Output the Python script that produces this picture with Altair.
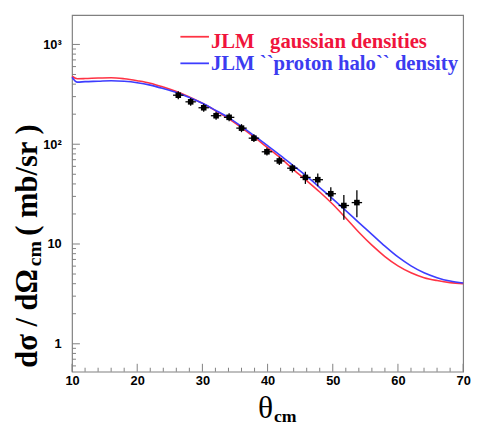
import altair as alt
import pandas as pd

# ---- curves (theta_cm in deg, dsigma/dOmega in mb/sr) ----
theta_curve = [10, 10.8, 12, 14, 16, 18, 20, 22, 24, 26, 28, 30, 32, 34, 36, 38, 40,
               42, 44, 46, 48, 50, 52, 54, 56, 58, 60, 62, 64, 66, 68, 70]
jlm_gauss = [480, 453, 455, 461, 464, 453, 433, 409, 374, 337, 298, 257, 217, 181, 147, 117,
             92.3, 72.8, 55.4, 43.1, 33.2, 25.0, 18.2, 13.1, 9.73, 7.49, 6.04, 5.15, 4.60,
             4.30, 4.10, 4.01]
jlm_halo = [469, 419, 424, 428, 433, 428, 414, 391, 361, 330, 294, 257, 219, 185, 151, 121,
            96.6, 76.9, 60.7, 47.8, 36.8, 28.3, 21.6, 16.4, 12.5, 9.51, 7.41, 6.04, 5.15,
            4.60, 4.25, 4.06]

# ---- data points ----
theta_data = [26.3, 28.2, 30.2, 32.1, 34.1, 36.0, 37.9, 39.9, 41.8, 43.8, 45.8, 47.7,
              49.7, 51.7, 53.7]
xs_data = [310, 266, 232, 193, 186, 145, 115, 84, 68, 57.5, 46.5, 44.1, 31.9, 24.3, 26.0]
xs_lo = [283, 243, 212, 176, 170, 132, 105, 77, 62, 52, 40, 38, 27, 17.5, 18.5]
xs_hi = [340, 291, 254, 211, 204, 159, 126, 92, 75, 63, 53, 51, 37, 31, 34.5]
theta_err = [0.8, 0.8, 0.8, 0.8, 0.8, 0.8, 0.8, 0.8, 0.8, 0.8, 0.8, 0.8, 0.8, 0.8, 0.8]

# ---- ticks ----
x_major = [10, 20, 30, 40, 50, 60, 70]
x_minor = [12, 14, 16, 18, 22, 24, 26, 28, 32, 34, 36, 38, 42, 44, 46, 48,
           52, 54, 56, 58, 62, 64, 66, 68]
y_major = [1, 10, 100, 1000]
y_minor = [0.6, 0.7, 0.8, 0.9, 2, 3, 4, 5, 6, 7, 8, 9, 20, 30, 40, 50, 60, 70, 80, 90,
           200, 300, 400, 500, 600, 700, 800, 900]

legend_labels = ["JLM\u00a0\u00a0\u00a0gaussian densities", "JLM ``proton halo`` density"]

RED = "#ff3344"
BLUE = "#3d3dff"
GRAY = "#808080"
W, H = 397, 362

gauss_df = pd.DataFrame({"theta": theta_curve, "xs": jlm_gauss})
halo_df = pd.DataFrame({"theta": theta_curve, "xs": jlm_halo})
pts_df = pd.DataFrame({
    "theta": theta_data, "xs": xs_data, "lo": xs_lo, "hi": xs_hi,
    "tlo": [t - e for t, e in zip(theta_data, theta_err)],
    "thi": [t + e for t, e in zip(theta_data, theta_err)],
})

xs = alt.Scale(domain=[10, 70], nice=False)
ys = alt.Scale(type="log", domain=[0.525, 1970], nice=False)

red_line = alt.Chart(gauss_df).mark_line(color=RED, strokeWidth=1.6, interpolate="monotone").encode(
    x=alt.X("theta:Q", scale=xs, axis=None),
    y=alt.Y("xs:Q", scale=ys, axis=None),
)
blue_line = alt.Chart(halo_df).mark_line(color=BLUE, strokeWidth=1.6, interpolate="monotone").encode(
    x=alt.X("theta:Q", scale=xs, axis=None),
    y=alt.Y("xs:Q", scale=ys, axis=None),
)

# inward ticks (ROOT style)
def xticks(vals, length):
    return alt.Chart(pd.DataFrame({"v": vals})).mark_rule(color=GRAY, strokeWidth=1).encode(
        x=alt.X("v:Q", scale=xs, axis=None), y=alt.value(H - length), y2=alt.value(H))

def yticks(vals, length):
    return alt.Chart(pd.DataFrame({"v": vals})).mark_rule(color=GRAY, strokeWidth=1).encode(
        y=alt.Y("v:Q", scale=ys, axis=None), x=alt.value(0), x2=alt.value(length))

ticks = [xticks(x_major, 8), xticks(x_minor, 4), yticks(y_major, 8), yticks(y_minor, 4)]

ebar_v = alt.Chart(pts_df).mark_rule(color="black", strokeWidth=1.3).encode(
    x=alt.X("theta:Q", scale=xs, axis=None),
    y=alt.Y("lo:Q", scale=ys, axis=None),
    y2="hi:Q",
)
ebar_h = alt.Chart(pts_df).mark_rule(color="black", strokeWidth=1.3).encode(
    x=alt.X("tlo:Q", scale=xs, axis=None),
    x2="thi:Q",
    y=alt.Y("xs:Q", scale=ys, axis=None),
)
points = alt.Chart(pts_df).mark_square(size=32, color="black", opacity=1).encode(
    x=alt.X("theta:Q", scale=xs, axis=alt.Axis(
        orient="bottom", values=x_major, ticks=False, tickSize=0, domain=False, grid=False,
        title=None, labelFont="Liberation Sans", labelFontWeight="bold", labelFontSize=13,
        labelColor="black", labelPadding=3, labelFlush=False, format="d")),
    y=alt.Y("xs:Q", scale=ys, axis=alt.Axis(
        orient="left", values=y_major, ticks=False, tickSize=0, domain=False, grid=False,
        title=None, labelFont="Liberation Sans", labelFontWeight="bold", labelFontSize=13,
        labelColor="black", labelPadding=11,
        labelExpr="datum.value == 1000 ? '10\u00b3' : datum.value == 100 ? '10\u00b2' : datum.value == 10 ? '10' : '1'")),
)

one = pd.DataFrame({"a": [0]})

def txt(s, x, y, **kw):
    return alt.Chart(one).mark_text(text=s, **kw).encode(x=alt.value(x), y=alt.value(y))

# legend
leg_red_line = alt.Chart(one).mark_rule(color=RED, strokeWidth=1.8).encode(
    x=alt.value(110), x2=alt.value(139), y=alt.value(22))
leg_blue_line = alt.Chart(one).mark_rule(color=BLUE, strokeWidth=1.8).encode(
    x=alt.value(110), x2=alt.value(139), y=alt.value(49))
leg_red_txt = txt(legend_labels[0], 141, 33, font="Liberation Serif", fontWeight="bold",
                  fontSize=21, color="#f0143c", align="left", baseline="alphabetic")
leg_blue_txt = txt(legend_labels[1], 141, 56, font="Liberation Serif", fontWeight="bold",
                   fontSize=21, color="#3c3cf0", align="left", baseline="alphabetic")

# axis titles
yt1 = txt("d\u03c3 / d\u03a9", -36, 358, font="Liberation Serif", fontWeight="bold", fontSize=31,
          angle=270, align="left", baseline="alphabetic", color="black")
yt2 = txt("cm", -31, 255, font="Liberation Serif", fontWeight="bold", fontSize=20,
          angle=270, align="left", baseline="alphabetic", color="black")
yt3 = txt("( mb/sr )", -36, 224, font="Liberation Serif", fontWeight="bold", fontSize=31,
          angle=270, align="left", baseline="alphabetic", color="black")
xt1 = txt("\u03b8", 204, 409, font="Liberation Serif", fontSize=32, align="right",
          baseline="alphabetic", color="black")
xt2 = txt("cm", 205, 413, font="Liberation Serif", fontWeight="bold", fontSize=18,
          align="left", baseline="alphabetic", color="black")

chart = alt.layer(
    *ticks, red_line, blue_line, ebar_v, ebar_h, points,
    leg_red_line, leg_blue_line, leg_red_txt, leg_blue_txt,
    yt1, yt2, yt3, xt1, xt2,
).resolve_axis(x="independent", y="independent").properties(
    width=W, height=H,
    padding={"left": 65, "top": 4, "right": 9, "bottom": 55},
    autosize=alt.AutoSizeParams(type="none"),
    background="white",
).configure_view(stroke=GRAY, strokeWidth=1.2)

chart.save("out.html", embed_options={"renderer": "svg", "actions": False})
